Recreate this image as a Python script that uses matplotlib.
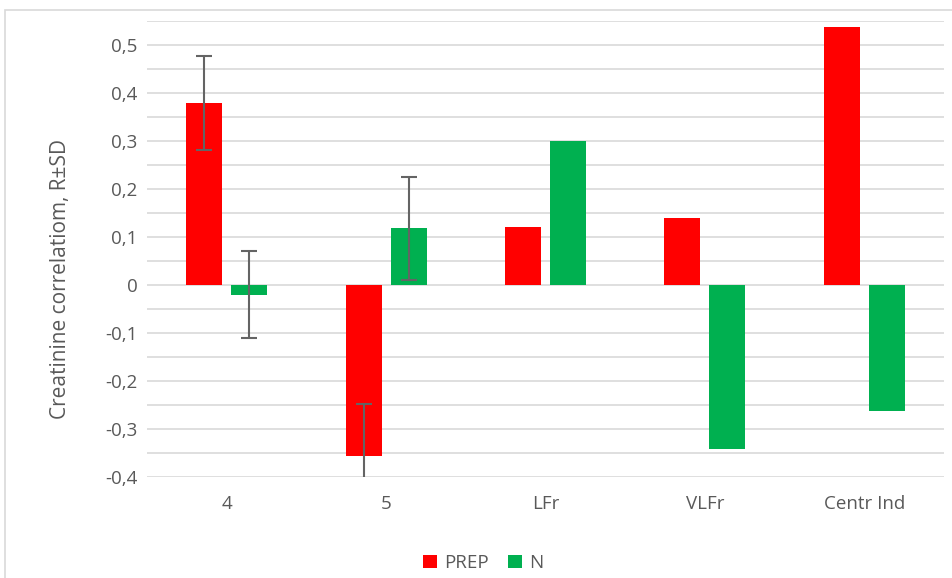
import matplotlib.pyplot as plt
import numpy as np
from matplotlib.patches import Rectangle
from matplotlib.ticker import FuncFormatter, MultipleLocator

plt.rcParams["font.family"] = ["Open Sans", "DejaVu Sans"]

categories = ["4", "5", "LFr", "VLFr", "Centr Ind"]
prep_values = [0.38, -0.357, 0.12, 0.14, 0.538]
n_values = [-0.02, 0.118, 0.30, -0.342, -0.262]
# SD only shown for the first two groups
prep_sd = [0.098, 0.11, 0, 0, 0]
n_sd = [0.09, 0.107, 0, 0, 0]
series_names = ["PREP", "N"]

RED = "#FF0000"
GREEN = "#00B050"
TEXT = "#595959"
GRID = "#D9D9D9"
ERR = "#646464"

W, H = 952, 578
fig = plt.figure(figsize=(W / 100, H / 100), dpi=100)
ax = fig.add_axes([147 / W, 1 - 477 / H, (944 - 147) / W, (477 - 21) / H])

# chart frame (cropped at right/bottom like the reference)
fig.patches.append(Rectangle((5 / W, -0.1), 1.2, 1 - 10 / H + 0.1, transform=fig.transFigure,
                             fill=False, edgecolor=GRID, linewidth=1.2))

x = np.arange(len(categories))
bw = 0.226
gap = 0.056
xp = x - (bw + gap) / 2
xn = x + (bw + gap) / 2

ax.bar(xp, prep_values, width=bw, color=RED, label=series_names[0], zorder=2)
ax.bar(xn, n_values, width=bw, color=GREEN, label=series_names[1], zorder=2)

for i in range(len(categories)):
    if prep_sd[i] > 0:
        ax.errorbar(xp[i], prep_values[i], yerr=prep_sd[i], fmt="none", ecolor=ERR,
                    elinewidth=1.5, capsize=5.5, capthick=1.5, zorder=3)
    if n_sd[i] > 0:
        ax.errorbar(xn[i], n_values[i], yerr=n_sd[i], fmt="none", ecolor=ERR,
                    elinewidth=1.5, capsize=5.5, capthick=1.5, zorder=3)

ax.set_xlim(-0.5, len(categories) - 0.5)
ax.set_ylim(-0.4, 0.55)
ax.yaxis.set_major_locator(MultipleLocator(0.1))
ax.yaxis.set_minor_locator(MultipleLocator(0.05))
ax.yaxis.set_major_formatter(FuncFormatter(lambda v, p: "0" if abs(v) < 1e-9 else f"{v:.1f}".replace(".", ",")))
ax.grid(axis="y", which="both", color=GRID, linewidth=1.2, zorder=0)
ax.set_axisbelow(True)

ax.set_xticks(x)
ax.set_xticklabels(categories)
ax.tick_params(axis="x", length=0, pad=13, labelsize=13.5, labelcolor=TEXT)
ax.tick_params(axis="y", which="both", length=0, pad=7, labelsize=13.5, labelcolor=TEXT)
for s in ax.spines.values():
    s.set_visible(False)

ax.set_ylabel("Creatinine correlatiom, R±SD", fontsize=15, color=TEXT)
ax.yaxis.set_label_coords((71 - 147) / 797, 0.435)

leg = fig.legend(loc="center", bbox_to_anchor=(483 / W, 1 - 563 / H), ncol=2, frameon=False,
                 fontsize=13.5, handlelength=0.75, handleheight=0.75, handletextpad=0.4,
                 columnspacing=1.0)
for t in leg.get_texts():
    t.set_color(TEXT)

fig.savefig("out.png", dpi=100)
